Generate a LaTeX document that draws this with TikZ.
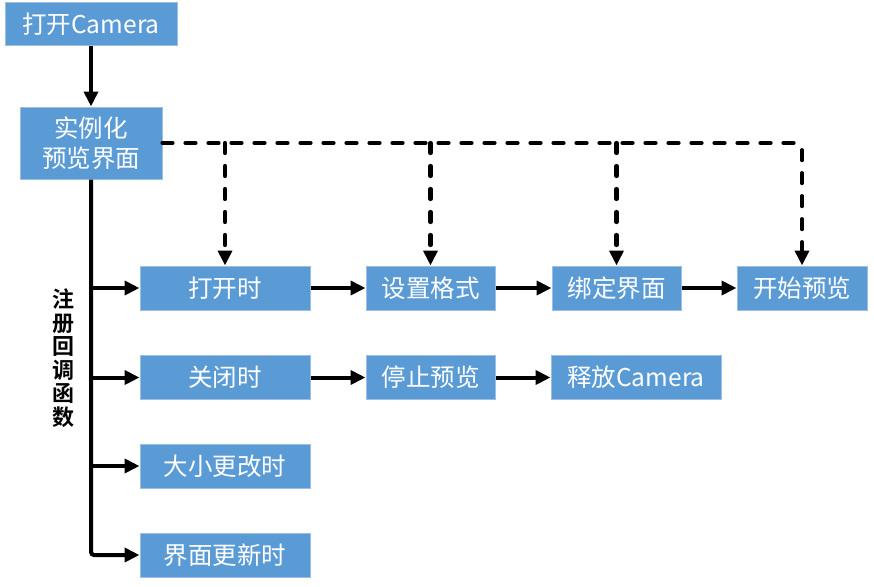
\documentclass[tikz,border=0pt]{standalone}
\usepackage{fontspec}
\setmainfont{Noto Sans CJK SC}
\newfontfamily\cjkbold{Noto Sans CJK SC Bold}
\usetikzlibrary{arrows.meta}
\definecolor{boxblue}{HTML}{5B9BD5}
\definecolor{boxedge}{HTML}{9DBFE3}
\tikzset{
  x=1pt, y=-1pt,
  box/.style={draw=boxedge, line width=1pt, fill=boxblue, text=white,
    font=\fontsize{24.5}{30}\selectfont, inner sep=0pt, align=center,
    minimum height=44pt},
  flow/.style={line width=4pt, -{Triangle[length=15pt,width=14pt]}},
  trunk/.style={line width=4pt},
  dashflow/.style={line width=4.2pt, dash pattern=on 10pt off 13pt, line cap=round,
    line join=round, rounded corners=6pt},
  dasharrow/.style={dashflow, -{Triangle[length=15pt,width=14pt]}}
}
\begin{document}
\begin{tikzpicture}
\useasboundingbox (0,0) rectangle (874,586);

% top boxes
\node[box, minimum width=172pt, minimum height=43pt] (open) at (91,24.5) {打开Camera};
\node[box, minimum width=142pt, minimum height=72pt] (inst) at (91,143) {实例化\\预览界面};

% callback rows
\node[box, minimum width=170pt] (onopen) at (225,288) {打开时};
\node[box, minimum width=129pt] (setfmt) at (430.5,288) {设置格式};
\node[box, minimum width=129pt] (bind)   at (616.5,288) {绑定界面};
\node[box, minimum width=130pt] (start)  at (802,288) {开始预览};

\node[box, minimum width=170pt] (onclose) at (225,377.5) {关闭时};
\node[box, minimum width=129pt] (stop)    at (430.5,377.5) {停止预览};
\node[box, minimum width=170pt] (release) at (636,377.5) {释放Camera};

\node[box, minimum width=170pt] (onsize) at (225,466) {大小更改时};
\node[box, minimum width=170pt] (onupd)  at (225,555) {界面更新时};

% vertical label
\node[font=\cjkbold\fontsize{22}{23.5}\selectfont, align=center, inner sep=0pt] (lbl) at (63,358)
  {注\\册\\回\\调\\函\\数};

% main flow
\draw[flow] (open.south) -- (inst.north);

% callback trunk
\coordinate (tb) at (inst.south |- onupd.west);
\draw[trunk, rounded corners=3pt] (inst.south) -- (tb) -- ([xshift=-12pt]onupd.west);
\draw[flow] ([xshift=-13pt]onupd.west) -- (onupd.west);
\draw[flow] (inst.south |- onopen.west) -- (onopen.west);
\draw[flow] (inst.south |- onclose.west) -- (onclose.west);
\draw[flow] (inst.south |- onsize.west) -- (onsize.west);

% row sequences
\draw[flow] (onopen.east) -- (setfmt.west);
\draw[flow] (setfmt.east) -- (bind.west);
\draw[flow] (bind.east) -- (start.west);
\draw[flow] (onclose.east) -- (stop.west);
\draw[flow] (stop.east) -- (release.west);

% dashed links from the preview object
\coordinate (dc) at (start.north |- inst.east);
\draw[dasharrow] (inst.east) -- (dc) -- (start.north);
\draw[dasharrow] (onopen.north |- inst.east) -- (onopen.north);
\draw[dasharrow] (setfmt.north |- inst.east) -- (setfmt.north);
\draw[dasharrow] (bind.north |- inst.east) -- (bind.north);
\end{tikzpicture}
\end{document}
